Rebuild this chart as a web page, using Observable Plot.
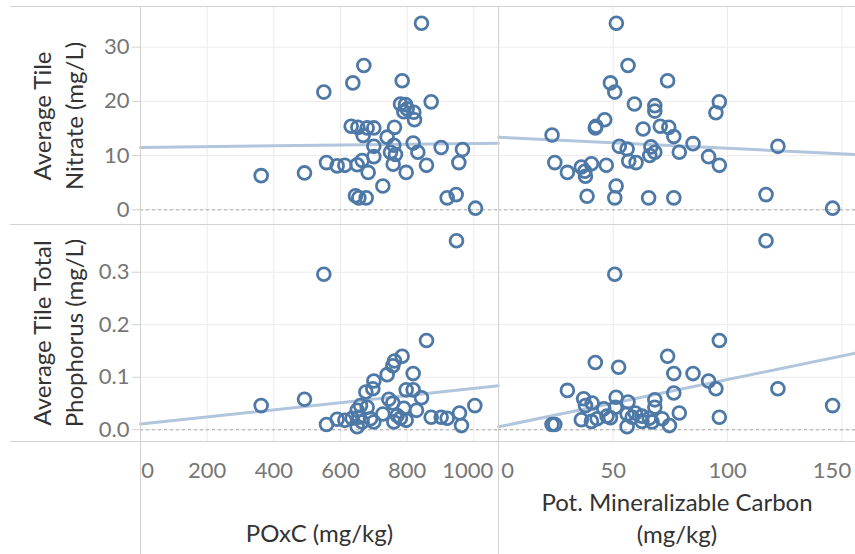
<!DOCTYPE html>
<html>
<head>
<meta charset="utf-8">
<script src="https://cdn.jsdelivr.net/npm/d3@7"></script>
<script src="https://cdn.jsdelivr.net/npm/@observablehq/plot@0.6"></script>
<style>
  html, body { margin: 0; padding: 0; background: #fff; }
  #chart { position: relative; width: 855px; height: 554px; overflow: hidden; font-family: Lato, sans-serif; }
  #chart svg { position: absolute; overflow: visible; }
  .hline { position: absolute; height: 0; border-top: 1px solid #d2d2d2; }
  .vline { position: absolute; width: 0; border-left: 1px solid #d2d2d2; }
</style>
</head>
<body>
<div id="chart"></div>
<script>
// ---- data ----
// POxC (mg/kg) vs Average Tile Nitrate (mg/L)
const poxcNitrate = [
  [843,34.4],[670,26.6],[637,23.4],[785,23.8],[550,21.7],[872,19.9],[780,19.5],[795,19.4],
  [800,18.6],[820,18.0],[790,18.1],[822,16.6],[632,15.4],[652,15.2],[680,15.1],[700,15.1],
  [762,15.2],[668,13.7],[740,13.4],[818,12.3],[700,11.7],[760,11.9],[902,11.5],[966,11.1],
  [750,10.6],[832,10.6],[765,10.2],[700,9.8],[665,9.1],[558,8.7],[955,8.7],[590,8.1],
  [613,8.2],[650,8.3],[758,8.4],[858,8.2],[362,6.3],[492,6.8],[683,6.9],[797,6.9],
  [727,4.4],[645,2.6],[655,2.2],[677,2.2],[920,2.2],[947,2.8],[1005,0.3]
];
// Pot. Mineralizable Carbon (mg/kg) vs Average Tile Nitrate (mg/L)
const pmcNitrate = [
  [51.4,34.4],[56.5,26.6],[48.8,23.4],[73.8,23.8],[50.7,21.7],[96.4,19.9],[94.9,17.9],[59.3,19.5],
  [68.2,19.2],[68.2,18.2],[46.3,16.6],[42.2,15.1],[42.5,15.4],[63.1,14.9],[70.6,15.4],[74.3,15.2],
  [76.5,13.5],[23.3,13.8],[84.9,12.2],[122.0,11.7],[52.7,11.7],[56.1,11.2],[66.5,11.6],[68.2,10.6],
  [66.0,10.0],[78.9,10.6],[91.7,9.8],[96.4,8.2],[24.5,8.7],[56.8,9.0],[60.0,8.7],[30.0,6.9],
  [36.1,7.9],[40.5,8.5],[37.6,7.1],[37.9,6.2],[47.0,8.2],[51.3,4.4],[38.6,2.5],[50.7,2.2],
  [65.5,2.2],[76.5,2.2],[116.8,2.8],[145.9,0.3]
];
// POxC (mg/kg) vs Average Tile Total Phophorus (mg/L)
const poxcPhos = [
  [948,0.360],[550,0.296],[858,0.170],[785,0.140],[762,0.131],[757,0.122],[740,0.105],[818,0.107],
  [700,0.093],[697,0.078],[676,0.072],[797,0.076],[818,0.076],[843,0.061],[362,0.046],[492,0.058],
  [1003,0.046],[745,0.058],[757,0.051],[660,0.046],[680,0.043],[650,0.037],[828,0.037],[790,0.041],
  [727,0.030],[872,0.024],[957,0.032],[902,0.024],[920,0.022],[558,0.010],[590,0.020],[613,0.018],
  [635,0.022],[655,0.024],[665,0.015],[650,0.006],[700,0.015],[760,0.015],[780,0.022],[797,0.018],
  [963,0.008],[690,0.021],[770,0.027]
];
// Pot. Mineralizable Carbon (mg/kg) vs Average Tile Total Phophorus (mg/L)
const pmcPhos = [
  [116.8,0.360],[50.7,0.296],[96.4,0.170],[73.8,0.140],[42.2,0.128],[52.4,0.119],[76.5,0.107],[84.9,0.107],
  [91.7,0.093],[94.9,0.078],[122.0,0.078],[30.0,0.075],[76.5,0.070],[145.9,0.046],[37.1,0.059],[40.8,0.051],
  [51.3,0.062],[56.5,0.053],[68.2,0.057],[37.9,0.046],[45.9,0.040],[51.0,0.043],[68.2,0.043],[78.9,0.032],
  [96.4,0.024],[23.3,0.010],[24.5,0.010],[36.1,0.019],[40.5,0.016],[47.3,0.026],[48.8,0.023],[56.1,0.030],
  [59.7,0.032],[58.3,0.024],[62.6,0.016],[65.8,0.022],[67.0,0.015],[71.4,0.021],[74.6,0.008],[56.1,0.006],
  [43.0,0.021],[62.6,0.026]
];
// trend lines (value at each end of the axis range)
const trendPoxcNitrate = [[0, 11.49], [1074, 12.29]];
const trendPmcNitrate  = [[0, 13.37], [156, 10.2]];
const trendPoxcPhos    = [[0, 0.0108], [1074, 0.084]];
const trendPmcPhos     = [[0, 0.0057], [156, 0.146]];

// tick values and labels
const nitrateTicks = [0, 10, 20, 30];
const phosTicks = [0, 0.1, 0.2, 0.3];
const poxcTicks = [0, 200, 400, 600, 800, 1000];
const pmcTicks = [0, 50, 100, 150];
const rowTitles = ["Average Tile\nNitrate (mg/L)", "Average Tile Total\nPhophorus (mg/L)"];
const colTitles = ["POxC (mg/kg)", "Pot. Mineralizable Carbon\n(mg/kg)"];

// ---- styles ----
const BLUE = "#4e79a7";
const TREND = "#b1c5dc";
const GRID = "#ebebeb";
const TICKTXT = "#767676";
const TITLE = "#333333";
const FONT = "Lato, sans-serif";

const poxcDomain = [0, 1074];
const pmcDomain = [-0.1, 155.9];
const nitrateDomain = [-2.71, 37.3];
const phosDomain = [-0.0223, 0.3908];

function panel({data, trend, xDomain, yDomain, xTicks, yTicks, yFmt, left, bottom, rowTitle, colTitle, edgeDx, titleDy}) {
  const marks = [
    Plot.gridX(xTicks, {stroke: GRID, strokeOpacity: 1}),
    Plot.gridY(yTicks, {stroke: GRID, strokeOpacity: 1}),
    Plot.ruleY([0], {stroke: "#a8a8a8", strokeDasharray: "3,3", strokeWidth: 1}),
    Plot.line(trend, {x: d => d[0], y: d => d[1], stroke: TREND, strokeWidth: 3}),
    Plot.dot(data, {x: d => d[0], y: d => d[1], r: 6.4, stroke: BLUE, strokeWidth: 2.8, fill: "none"})
  ];
  if (left) {
    marks.push(Plot.axisY(yTicks, {tickSize: 8, text: null, stroke: "#d0d0d0", label: null}));
    marks.push(Plot.axisY(yTicks, {tickSize: 0, tickPadding: 11, fontSize: 22, color: TICKTXT, tickFormat: yFmt, label: null, fontFamily: FONT}));
    marks.push(Plot.text([rowTitle], {frameAnchor: "left", textAnchor: "middle", lineAnchor: "middle", rotate: -90, dx: -84, fontSize: 24, lineHeight: 1.35, fill: TITLE, fontFamily: FONT}));
  }
  if (bottom) {
    const inner = xTicks.slice(1, -1);
    const fmt = d3.format("d");
    const ax = {tickSize: 0, tickPadding: 21, fontSize: 22, color: TICKTXT, label: null, tickFormat: fmt, fontFamily: FONT};
    marks.push(Plot.axisX(inner, ax));
    marks.push(Plot.axisX([xTicks[0]], {...ax, dx: edgeDx[0]}));
    marks.push(Plot.axisX([xTicks[xTicks.length - 1]], {...ax, dx: edgeDx[1]}));
    marks.push(Plot.text([colTitle], {frameAnchor: "bottom", lineAnchor: "middle", dy: titleDy, fontSize: 24, lineHeight: 1.33, fill: TITLE, fontFamily: FONT}));
  }
  return Plot.plot({
    width: left ? 498 : 357,
    height: bottom ? 330 : 224,
    marginLeft: left ? 140 : 0,
    marginRight: 0,
    marginTop: bottom ? 0 : 7,
    marginBottom: bottom ? 113 : 0,
    x: {domain: xDomain, axis: null},
    y: {domain: yDomain, axis: null},
    style: {fontFamily: FONT, background: "transparent", overflow: "visible"},
    marks
  });
}

const chart = document.getElementById("chart");
const specs = [
  {pos: [0, 0], opts: {data: poxcNitrate, trend: trendPoxcNitrate, xDomain: poxcDomain, yDomain: nitrateDomain, xTicks: poxcTicks, yTicks: nitrateTicks, yFmt: d3.format("d"), left: true, bottom: false, rowTitle: rowTitles[0]}},
  {pos: [498, 0], opts: {data: pmcNitrate, trend: trendPmcNitrate, xDomain: pmcDomain, yDomain: nitrateDomain, xTicks: pmcTicks, yTicks: nitrateTicks, left: false, bottom: false}},
  {pos: [0, 224], opts: {data: poxcPhos, trend: trendPoxcPhos, xDomain: poxcDomain, yDomain: phosDomain, xTicks: poxcTicks, yTicks: phosTicks, yFmt: d3.format(".1f"), left: true, bottom: true, rowTitle: rowTitles[1], colTitle: colTitles[0], edgeDx: [7, -6], titleDy: 90}},
  {pos: [498, 224], opts: {data: pmcPhos, trend: trendPmcPhos, xDomain: pmcDomain, yDomain: phosDomain, xTicks: pmcTicks, yTicks: phosTicks, left: false, bottom: true, colTitle: colTitles[1], edgeDx: [9, -10], titleDy: 75}}
];
for (const s of specs) {
  const svg = panel(s.opts);
  svg.style.left = s.pos[0] + "px";
  svg.style.top = s.pos[1] + "px";
  chart.appendChild(svg);
}
// pane separator lines
function line(cls, l, t, len) {
  const d = document.createElement("div");
  d.className = cls;
  d.style.left = l + "px"; d.style.top = t + "px";
  if (cls === "hline") d.style.width = len + "px"; else d.style.height = len + "px";
  chart.appendChild(d);
}
line("hline", 10, 6, 845);
line("hline", 10, 224, 845);
line("hline", 10, 441, 845);
line("vline", 140, 6, 548);
line("vline", 498, 6, 548);
</script>
</body>
</html>
